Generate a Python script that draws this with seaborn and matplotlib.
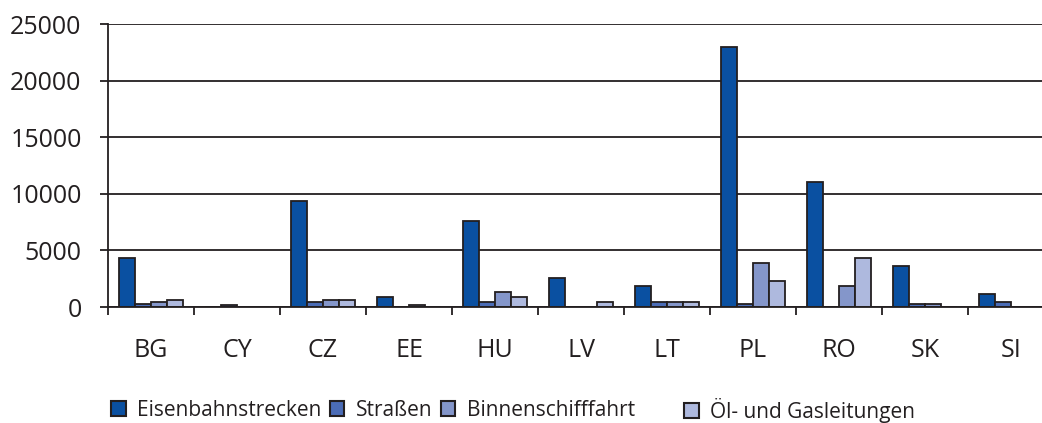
import pandas as pd
import seaborn as sns
import matplotlib
import matplotlib.pyplot as plt
from matplotlib.ticker import FixedLocator

matplotlib.use('Agg')

# Data
countries = ['BG', 'CY', 'CZ', 'EE', 'HU', 'LV', 'LT', 'PL', 'RO', 'SK', 'SI']
series = ['Eisenbahnstrecken', 'Straßen', 'Binnenschifffahrt', 'Öl- und Gasleitungen']
eisenbahn = [4330, 0, 9400, 920, 7580, 2540, 1830, 22930, 11000, 3660, 1120]
strassen = [240, 200, 420, 0, 420, 0, 420, 240, 0, 240, 420]
binnen = [420, 0, 650, 200, 1360, 0, 420, 3860, 1830, 240, 0]
oel = [650, 0, 650, 0, 920, 440, 420, 2270, 4330, 0, 0]
yticks = [0, 5000, 10000, 15000, 20000, 25000]

colors = ['#0A50A1', '#4B6CB6', '#8496CA', '#AEB9DE']
edge = '#231F20'

rows = []
for name, vals in zip(series, [eisenbahn, strassen, binnen, oel]):
    for c, v in zip(countries, vals):
        rows.append({'Land': c, 'Serie': name, 'Wert': v})
df = pd.DataFrame(rows)

sns.set_style('white')
plt.rcParams['font.family'] = ['Open Sans', 'DejaVu Sans']

fig = plt.figure(figsize=(10.42, 4.23), dpi=100)
ax = fig.add_axes([108 / 1042, 1 - 307 / 423, 1 - 108 / 1042, 283 / 423])

sns.barplot(data=df, x='Land', y='Wert', hue='Serie', hue_order=series,
            palette=colors, width=0.745, edgecolor=edge, linewidth=1.3,
            saturation=1, ax=ax, legend=True)

ax.set_ylim(0, 25000)
ax.set_xlim(-0.5, 10.36)
ax.set_yticks(yticks)
ax.yaxis.grid(True, color=edge, linewidth=1.3)
ax.set_axisbelow(True)
ax.set_xlabel('')
ax.set_ylabel('')

for side in ['top', 'right']:
    ax.spines[side].set_visible(False)
for side in ['left', 'bottom']:
    ax.spines[side].set_color(edge)
    ax.spines[side].set_linewidth(1.3)

ax.tick_params(axis='y', which='major', direction='out', length=6, width=1.3,
               color=edge, labelsize=18, labelcolor=edge, pad=13, left=True)
ax.tick_params(axis='x', which='major', length=0, labelsize=18,
               labelcolor=edge, pad=22)
ax.xaxis.set_minor_locator(FixedLocator([i - 0.5 for i in range(len(countries) + 1)]))
ax.tick_params(axis='x', which='minor', direction='out', length=6, width=1.3,
               color=edge, bottom=True)

handles, labels = ax.get_legend_handles_labels()
ax.legend_.remove()
for h in handles:
    h.set_edgecolor(edge)
    h.set_linewidth(1.5)

leg_kw = dict(frameon=False, fontsize=15, handlelength=0.7, handleheight=0.7,
              handletextpad=0.55, columnspacing=0.4, labelcolor=edge,
              borderpad=0, borderaxespad=0)
fig.legend(handles[:3], labels[:3], loc='center left',
           bbox_to_anchor=(111 / 1042, 1 - 410 / 423), ncol=3, **leg_kw)
fig.legend(handles[3:], labels[3:], loc='center left',
           bbox_to_anchor=(684 / 1042, 1 - 410 / 423), ncol=1, **leg_kw)

fig.savefig('out.png', dpi=100)
